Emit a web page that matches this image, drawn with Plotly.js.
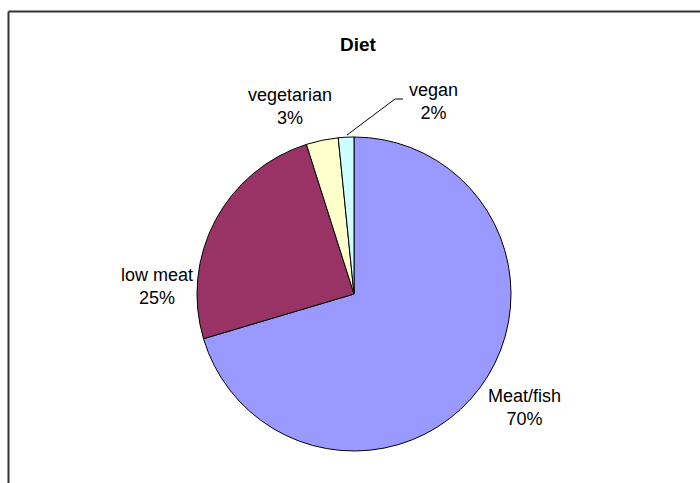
<!DOCTYPE html>
<html>
<head>
<meta charset="utf-8">
<script src="https://cdn.plot.ly/plotly-3.0.1.min.js"></script>
<style>html,body{margin:0;padding:0;background:#fff;}#chart{width:700px;height:483px;}</style>
</head>
<body>
<div id="chart"></div>
<script>
// Data
const labels = ["Meat/fish", "low meat", "vegetarian", "vegan"];
const values = [70.4, 24.7, 3.3, 1.6];
const colors = ["#9999FF", "#993366", "#FFFFCC", "#CCFFFF"];
const chartTitle = "Diet";

const W = 700, H = 483;
const px = x => x / W;
const py = y => 1 - y / H;
const total = values.reduce((a, b) => a + b, 0);

// label block centres (pixels)
const labelPos = [[524, 407], [157, 286], [290, 106], [433, 101]];

const annotations = labels.map((l, i) => ({
  text: l + "<br>" + Math.round(values[i] / total * 100) + "%",
  x: px(labelPos[i][0]), y: py(labelPos[i][1]),
  xref: "paper", yref: "paper", showarrow: false,
  xanchor: "center", yanchor: "middle", align: "center",
  font: {family: "Liberation Sans, Arial, sans-serif", size: 18, color: "#000"}
}));

const cx = 354, cy = 294, r = 157;

const data = [{
  type: "pie",
  labels: labels,
  values: values,
  sort: false,
  direction: "clockwise",
  rotation: 0,
  textinfo: "none",
  hoverinfo: "label+percent",
  marker: {colors: colors, line: {color: "#000", width: 1}},
  domain: {x: [px(cx - r), px(cx + r)], y: [py(cy + r), py(cy - r)]},
  showlegend: false
}];

const layout = {
  width: W, height: H,
  margin: {l: 0, r: 0, t: 0, b: 0},
  paper_bgcolor: "#fff",
  showlegend: false,
  title: {text: "<b>" + chartTitle + "</b>", x: px(358), xanchor: "center", y: py(44), yanchor: "middle",
          font: {family: "Liberation Sans, Arial, sans-serif", size: 19, color: "#000"}},
  annotations: annotations,
  shapes: [
    {type: "line", xref: "paper", yref: "paper", x0: px(8.5), x1: px(710), y0: py(11.5), y1: py(11.5),
     line: {color: "#333", width: 2}},
    {type: "line", xref: "paper", yref: "paper", x0: px(8.5), x1: px(8.5), y0: py(11.5), y1: py(495),
     line: {color: "#333", width: 2}},
    {type: "path", xref: "paper", yref: "paper",
     path: "M " + px(347) + " " + py(135) + " L " + px(395) + " " + py(99) + " L " + px(403) + " " + py(99),
     line: {color: "#000", width: 1}}
  ]
};

Plotly.newPlot("chart", data, layout, {displayModeBar: false, staticPlot: true});
</script>
</body>
</html>
